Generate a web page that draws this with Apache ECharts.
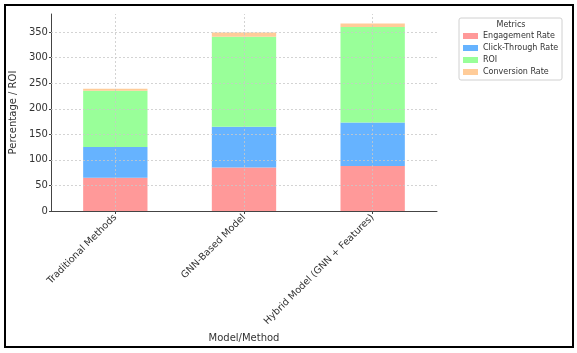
<!DOCTYPE html>
<html>
<head>
<meta charset="utf-8">
<script src="https://cdn.jsdelivr.net/npm/echarts@6/dist/echarts.min.js"></script>
<style>html,body{margin:0;padding:0;background:#fff}#c{width:577px;height:353px}</style>
</head>
<body>
<div id="c"></div>
<script>
const categories = ['Traditional Methods', 'GNN-Based Model', 'Hybrid Model (GNN + Features)'];
const engagementRate = [65, 85, 88];
const clickThroughRate = [60, 80, 85];
const roi = [110, 176, 187];
const conversionRate = [4, 8, 7];
const yTicks = [50, 100, 150, 200, 250, 300, 350];
const seriesNames = ['Engagement Rate', 'Click-Through Rate', 'ROI', 'Conversion Rate'];
const colors = ['#ff9999', '#66b3ff', '#99ff99', '#ffcc99'];
const values = [engagementRate, clickThroughRate, roi, conversionRate];

const FONT = 'DejaVu Sans';
const chart = echarts.init(document.getElementById('c'), null, {renderer: 'canvas'});

const gridLine = {color: '#c8c8c8', width: 0.8, type: [2, 2]};
const barSeries = seriesNames.map((n, i) => ({
  name: n, type: 'bar', stack: 'total', data: values[i], barWidth: '50%',
  itemStyle: {color: colors[i]}, z: 2
}));
barSeries.push({
  type: 'line', data: [], z: 5, silent: true,
  markLine: {
    silent: true, symbol: 'none', label: {show: false},
    lineStyle: gridLine,
    data: categories.map(c => ({xAxis: c})).concat(yTicks.map(v => ({yAxis: v})))
  }
});

chart.setOption({
  animation: false,
  textStyle: {fontFamily: FONT},
  color: colors,
  grid: {left: 47, right: 140, top: 14, bottom: 142, containLabel: false},
  xAxis: {
    type: 'category', data: categories, boundaryGap: true,
    name: 'Model/Method', nameLocation: 'middle', nameGap: 106,
    nameTextStyle: {fontFamily: FONT, fontSize: 10, color: '#333'},
    axisLine: {lineStyle: {color: '#444', width: 1}},
    axisTick: {show: true, alignWithLabel: true, length: 3, lineStyle: {color: '#444'}},
    axisLabel: {rotate: 45, fontFamily: FONT, fontSize: 9.6, color: '#333', margin: 5, interval: 0},
    splitLine: {show: false}
  },
  yAxis: {
    type: 'value', min: 0, max: 385.35, interval: 50,
    name: 'Percentage / ROI', nameLocation: 'middle', nameGap: 23,
    nameTextStyle: {fontFamily: FONT, fontSize: 10, color: '#333'},
    axisLine: {show: true, lineStyle: {color: '#444', width: 1}},
    axisTick: {show: true, length: 2, lineStyle: {color: '#444'}},
    axisLabel: {fontFamily: FONT, fontSize: 10, color: '#333', margin: 3, showMaxLabel: false},
    splitLine: {show: false}
  },
  legend: {
    data: seriesNames, orient: 'vertical', left: 463, top: 30, padding: 0,
    icon: 'rect', itemWidth: 15, itemHeight: 6, itemGap: 0, itemTextGap: 7,
    textStyle: {fontFamily: FONT, fontSize: 8, color: '#333', lineHeight: 12, height: 12}
  },
  graphic: [
    {type: 'rect', shape: {x: 5, y: 5, width: 568, height: 342}, style: {fill: 'none', stroke: '#000', lineWidth: 2}, z: 100},
    {type: 'rect', shape: {x: 459, y: 18, width: 103, height: 62, r: 2}, style: {fill: 'rgba(255,255,255,0.8)', stroke: '#d0d0d0', lineWidth: 1}, z: 0},
    {type: 'text', x: 511, y: 25, style: {text: 'Metrics', fontFamily: FONT, fontSize: 8, fill: '#333', align: 'center', verticalAlign: 'middle'}, z: 101}
  ],
  series: barSeries
});
</script>
</body>
</html>
